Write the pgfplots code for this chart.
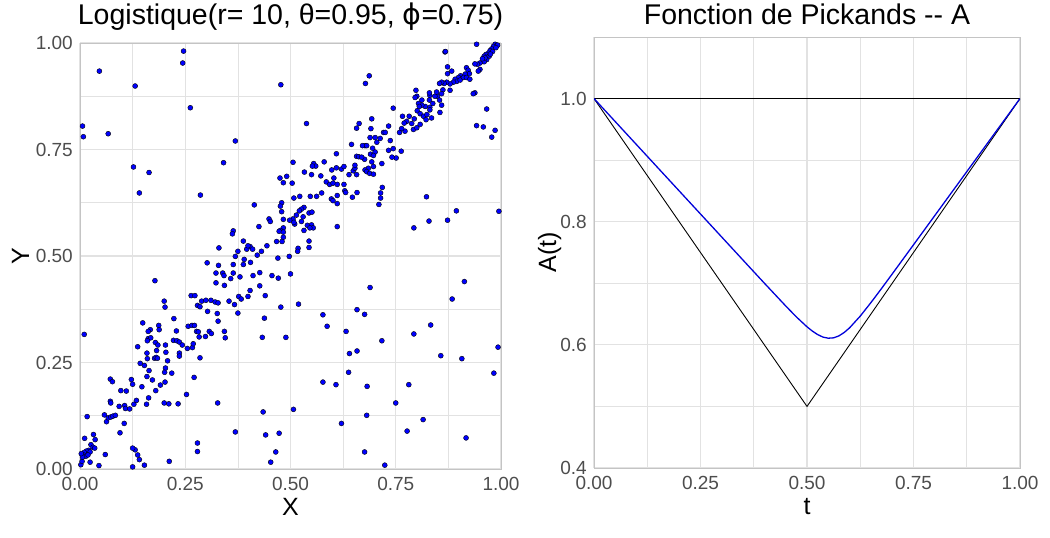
\documentclass[border=0pt]{standalone}
\usepackage{pgfplots}
\pgfplotsset{compat=1.18}
\usepackage{pgfplotstable}
\usepackage{fontspec}
\setmainfont{Liberation Sans}
\newfontfamily\symfont{DejaVu Sans}

\definecolor{gridgrey}{HTML}{E2E2E2}
\definecolor{bordergrey}{HTML}{C4C4C4}
\definecolor{ticktext}{HTML}{4D4D4D}

% simulated sample (X,Y)
\pgfplotstableread{
x y
0.006 0.805
0.008 0.780
0.046 0.934
0.067 0.787
0.131 0.899
0.127 0.709
0.141 0.648
0.164 0.696
0.244 0.953
0.246 0.981
0.262 0.848
0.286 0.643
0.178 0.442
0.369 0.770
0.341 0.719
0.477 0.902
0.538 0.811
0.414 0.620
0.010 0.316
0.017 0.123
0.867 0.979
0.678 0.905
0.687 0.923
0.894 0.606
0.995 0.605
0.823 0.639
0.829 0.582
0.873 0.584
0.793 0.566
0.689 0.426
0.913 0.440
0.884 0.399
0.833 0.338
0.793 0.317
0.717 0.301
0.993 0.286
0.857 0.266
0.907 0.259
0.983 0.225
0.781 0.198
0.682 0.194
0.750 0.155
0.815 0.116
0.681 0.126
0.777 0.089
0.917 0.073
0.676 0.040
0.724 0.009
0.621 0.107
0.608 0.198
0.577 0.204
0.587 0.335
0.577 0.362
0.632 0.323
0.640 0.271
0.658 0.374
0.676 0.363
0.658 0.277
0.638 0.227
0.507 0.140
0.519 0.387
0.489 0.309
0.477 0.380
0.438 0.354
0.433 0.309
0.440 0.407
0.435 0.134
0.441 0.080
0.473 0.084
0.465 0.040
0.453 0.016
0.369 0.087
0.375 0.366
0.327 0.155
0.279 0.061
0.279 0.041
0.212 0.018
0.233 0.153
0.253 0.175
0.271 0.215
0.218 0.225
0.285 0.261
0.200 0.155
0.211 0.153
0.158 0.152
0.163 0.167
0.131 0.045
0.125 0.049
0.137 0.033
0.141 0.022
0.153 0.009
0.125 0.005
0.045 0.008
0.060 0.034
0.024 0.016
0.938 0.883
0.934 0.881
0.966 0.845
0.942 0.806
0.958 0.803
0.986 0.795
0.978 0.779
0.330 0.519
0.302 0.484
0.329 0.478
0.323 0.460
0.323 0.437
0.264 0.407
0.273 0.407
0.200 0.394
0.202 0.380
0.279 0.384
0.285 0.381
0.289 0.394
0.299 0.396
0.311 0.396
0.321 0.392
0.328 0.390
0.303 0.370
0.326 0.365
0.328 0.347
0.223 0.353
0.149 0.343
0.187 0.337
0.188 0.327
0.167 0.327
0.162 0.323
0.229 0.324
0.257 0.335
0.266 0.337
0.272 0.337
0.277 0.323
0.281 0.322
0.283 0.310
0.298 0.311
0.307 0.323
0.312 0.318
0.162 0.306
0.168 0.308
0.160 0.301
0.179 0.297
0.185 0.291
0.203 0.291
0.222 0.302
0.230 0.301
0.236 0.298
0.137 0.287
0.243 0.291
0.255 0.283
0.267 0.285
0.269 0.294
0.236 0.272
0.236 0.265
0.182 0.278
0.204 0.274
0.159 0.272
0.177 0.260
0.181 0.262
0.184 0.260
0.160 0.259
0.208 0.254
0.203 0.237
0.143 0.248
0.153 0.243
0.164 0.231
0.159 0.217
0.172 0.209
0.201 0.227
0.202 0.204
0.180 0.184
0.191 0.197
0.147 0.193
0.072 0.211
0.077 0.205
0.122 0.210
0.125 0.199
0.097 0.184
0.110 0.183
0.072 0.159
0.073 0.155
0.093 0.147
0.106 0.149
0.108 0.142
0.118 0.141
0.128 0.152
0.134 0.161
0.058 0.127
0.063 0.111
0.067 0.120
0.073 0.122
0.078 0.124
0.084 0.126
0.105 0.107
0.095 0.085
0.011 0.072
0.032 0.081
0.036 0.069
0.026 0.057
0.031 0.051
0.035 0.049
0.021 0.044
0.015 0.042
0.010 0.039
0.024 0.040
0.008 0.033
0.014 0.030
0.019 0.033
0.002 0.010
0.005 0.018
0.006 0.028
0.003 0.036
0.483 0.672
0.504 0.671
0.585 0.674
0.593 0.668
0.601 0.671
0.611 0.668
0.627 0.668
0.629 0.653
0.631 0.649
0.658 0.649
0.647 0.638
0.611 0.642
0.597 0.634
0.601 0.630
0.611 0.623
0.574 0.648
0.562 0.640
0.547 0.640
0.522 0.640
0.508 0.636
0.479 0.625
0.476 0.617
0.479 0.604
0.483 0.586
0.532 0.614
0.526 0.610
0.521 0.606
0.514 0.596
0.506 0.587
0.498 0.584
0.544 0.601
0.551 0.603
0.530 0.592
0.526 0.581
0.510 0.575
0.508 0.579
0.540 0.572
0.550 0.573
0.554 0.566
0.546 0.566
0.532 0.560
0.449 0.587
0.452 0.581
0.425 0.569
0.483 0.566
0.476 0.560
0.473 0.558
0.483 0.556
0.483 0.544
0.467 0.534
0.480 0.534
0.611 0.569
0.544 0.535
0.544 0.520
0.518 0.518
0.517 0.511
0.444 0.524
0.388 0.535
0.404 0.522
0.396 0.516
0.410 0.516
0.399 0.524
0.375 0.511
0.369 0.499
0.431 0.511
0.421 0.502
0.364 0.559
0.362 0.552
0.390 0.492
0.405 0.485
0.388 0.480
0.470 0.495
0.497 0.499
0.364 0.480
0.339 0.460
0.342 0.454
0.364 0.460
0.358 0.447
0.380 0.451
0.411 0.454
0.427 0.461
0.456 0.454
0.471 0.448
0.500 0.458
0.343 0.431
0.427 0.430
0.404 0.419
0.377 0.405
0.383 0.399
0.399 0.405
0.354 0.394
0.367 0.386
0.343 0.323
0.345 0.308
0.609 0.740
0.663 0.811
0.657 0.800
0.645 0.762
0.506 0.720
0.555 0.717
0.560 0.711
0.552 0.711
0.580 0.721
0.533 0.697
0.550 0.691
0.572 0.688
0.598 0.702
0.609 0.707
0.621 0.704
0.627 0.710
0.475 0.683
0.491 0.687
0.603 0.683
0.639 0.691
0.649 0.700
0.653 0.706
0.657 0.691
0.653 0.713
0.718 0.661
0.714 0.648
0.714 0.636
0.710 0.621
0.657 0.734
0.662 0.733
0.690 0.739
0.942 0.997
0.868 0.980
0.986 0.997
0.990 0.994
0.982 0.992
0.978 0.986
0.974 0.982
0.970 0.976
0.964 0.973
0.960 0.969
0.980 0.980
0.972 0.969
0.966 0.961
0.960 0.956
0.950 0.953
0.944 0.950
0.938 0.951
0.950 0.938
0.946 0.934
0.962 0.965
0.992 0.995
0.988 0.989
0.975 0.974
0.956 0.963
0.873 0.944
0.883 0.934
0.873 0.928
0.918 0.942
0.922 0.936
0.925 0.928
0.915 0.927
0.904 0.923
0.899 0.919
0.891 0.915
0.895 0.910
0.887 0.908
0.879 0.904
0.871 0.908
0.865 0.905
0.859 0.908
0.854 0.905
0.903 0.913
0.911 0.919
0.918 0.919
0.926 0.915
0.862 0.890
0.879 0.889
0.859 0.881
0.849 0.875
0.854 0.866
0.843 0.875
0.831 0.877
0.830 0.866
0.838 0.858
0.831 0.849
0.820 0.851
0.812 0.854
0.804 0.858
0.801 0.841
0.808 0.834
0.816 0.828
0.824 0.832
0.831 0.843
0.798 0.889
0.800 0.875
0.796 0.872
0.812 0.866
0.806 0.851
0.822 0.820
0.794 0.822
0.788 0.811
0.782 0.828
0.776 0.816
0.770 0.812
0.766 0.828
0.772 0.793
0.764 0.799
0.759 0.790
0.744 0.847
0.792 0.797
0.800 0.801
0.808 0.809
0.835 0.824
0.855 0.837
0.859 0.854
0.830 0.883
0.847 0.885
0.693 0.822
0.691 0.799
0.689 0.778
0.701 0.778
0.713 0.776
0.721 0.790
0.725 0.790
0.733 0.805
0.737 0.771
0.733 0.748
0.744 0.752
0.751 0.730
0.741 0.732
0.763 0.746
0.677 0.759
0.671 0.759
0.681 0.759
0.695 0.753
0.701 0.744
0.705 0.767
0.697 0.736
0.693 0.721
0.697 0.710
0.685 0.706
0.677 0.702
0.681 0.698
0.688 0.694
0.717 0.717
0.676 0.727
0.669 0.732
0.697 0.692
}\sample

% Pickands function, blue curve
\pgfplotstableread{
t A
0 1.0
0.05 0.9625
0.1 0.925
0.15 0.8875
0.2 0.85
0.25 0.8125
0.3 0.775
0.35 0.7375
0.4 0.7001
0.45 0.6632
0.475 0.6454
0.5 0.6293
0.5125 0.6224
0.525 0.6167
0.5375 0.6126
0.55 0.6108
0.5625 0.6114
0.575 0.6146
0.5875 0.6202
0.6 0.6277
0.625 0.6467
0.65 0.6686
0.675 0.6916
0.7 0.7151
0.75 0.7625
0.8 0.81
0.85 0.8575
0.9 0.905
0.95 0.9525
1 1.0
}\pickands

\pgfplotsset{
  every axis title shift=0pt,
  panel/.style={
    scale only axis,
    axis line style={bordergrey, line width=0.8pt},
    grid=both,
    major grid style={gridgrey, line width=1.1pt},
    minor grid style={gridgrey, line width=0.7pt},
    major tick length=0pt, minor tick length=0pt,
    ticklabel style={font=\fontsize{19}{21}\selectfont, text=ticktext},
    xticklabel style={anchor=north, inner sep=0pt, yshift=-8pt},
    yticklabel style={anchor=east, inner sep=0pt, xshift=-7pt},
    label style={font=\fontsize{25}{28}\selectfont},
    title style={font=\fontsize{28.5}{32}\selectfont, at={(axis description cs:0.5,1)}, anchor=base},
    xmin=0, xmax=1,
    xtick={0,0.25,0.5,0.75,1},
    xticklabels={0.00,0.25,0.50,0.75,1.00},
    minor xtick={0.125,0.375,0.625,0.875},
  }
}

\begin{document}
\begin{tikzpicture}
\useasboundingbox (0,0) rectangle (1050pt,538pt);

\begin{axis}[panel,
    at={(80pt,69pt)}, anchor=south west,
    width=421pt, height=426pt,
    ymin=0, ymax=1,
    ytick={0,0.25,0.5,0.75,1},
    yticklabels={0.00,0.25,0.50,0.75,1.00},
    minor ytick={0.125,0.375,0.625,0.875},
    title={Logistique(r= 10, θ=0.95, {\symfont ϕ}=0.75)},
    title style={yshift=18pt},
    xlabel={X}, ylabel={Y},
    xlabel style={at={(axis description cs:0.5,-0.108)}, anchor=base},
    ylabel style={at={(axis description cs:-0.121,0.5)}, anchor=base},
  ]
  \addplot[only marks, mark=*, mark size=2.5pt, mark options={draw=none, fill=blue}] table[x=x, y=y] {\sample};
\end{axis}

\begin{axis}[panel,
    at={(594pt,70pt)}, anchor=south west,
    width=426pt, height=431pt,
    ymin=0.4, ymax=1.1,
    ytick={0.4,0.6,0.8,1.0},
    yticklabels={0.4,0.6,0.8,1.0},
    minor ytick={0.5,0.7,0.9},
    title={Fonction de Pickands -{}- A},
    title style={yshift=12pt},
    xlabel={t}, ylabel={A(t)},
    xlabel style={at={(axis description cs:0.5,-0.109)}, anchor=base},
    ylabel style={at={(axis description cs:-0.089,0.5)}, anchor=base},
  ]
  \addplot[black, line width=1.1pt] coordinates {(0,1) (1,1)};
  \addplot[black, line width=0.9pt] coordinates {(0,1) (0.5,0.5) (1,1)};
  \addplot[blue!85!black, line width=1.3pt] table[x=t, y=A] {\pickands};
\end{axis}
\end{tikzpicture}
\end{document}
